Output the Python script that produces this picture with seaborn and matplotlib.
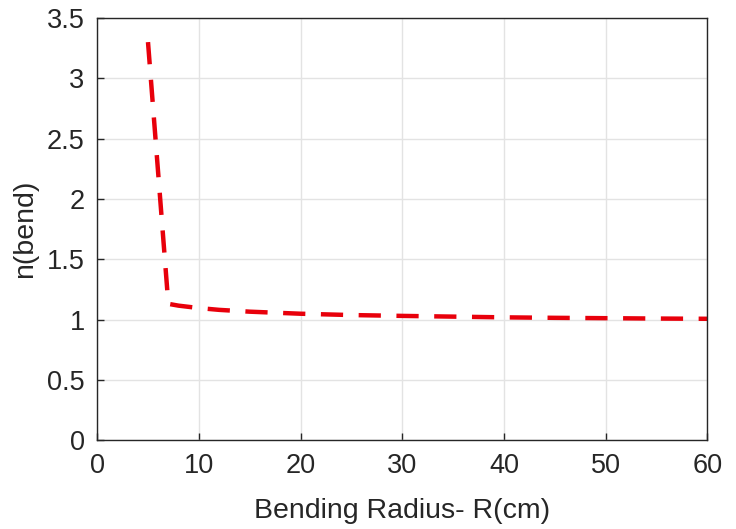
import matplotlib
matplotlib.use('Agg')
import matplotlib.pyplot as plt
import seaborn as sns
import pandas as pd

# bending radius (cm) vs bend factor
radius_cm = [5, 7, 8, 10, 12, 15, 20, 25, 30, 35, 40, 45, 50, 55, 60]
n_bend = [3.3, 1.13, 1.115, 1.095, 1.08, 1.065, 1.048, 1.037, 1.03, 1.024, 1.018, 1.014, 1.011, 1.008, 1.006]

x_ticks = [0, 10, 20, 30, 40, 50, 60]
y_ticks = [0, 0.5, 1, 1.5, 2, 2.5, 3, 3.5]

sns.set_style('ticks')
plt.rcParams['font.family'] = ['Liberation Sans', 'DejaVu Sans']

df = pd.DataFrame({'R': radius_cm, 'n': n_bend})

fig = plt.figure(figsize=(7.36, 5.29), dpi=100)
ax = fig.add_axes([0.132, 0.168, 0.829, 0.798])

sns.lineplot(data=df, x='R', y='n', ax=ax, color='#e8000b', linewidth=3.2,
             linestyle=(0, (5, 3.5)), estimator=None, sort=False)

ax.set_xlim(0, 60)
ax.set_ylim(0, 3.5)
ax.set_xticks(x_ticks)
ax.set_yticks(y_ticks)
ax.set_yticklabels(['0', '0.5', '1', '1.5', '2', '2.5', '3', '3.5'])
ax.grid(True, color='#e3e3e3', linewidth=1)
ax.set_axisbelow(True)
ax.tick_params(direction='in', length=5, width=1, color='#262626',
               labelsize=19.5, labelcolor='#262626', top=False, right=False)
ax.tick_params(axis='x', pad=9)
ax.tick_params(axis='y', pad=9)
for side in ['top', 'right', 'bottom', 'left']:
    ax.spines[side].set_visible(True)
    ax.spines[side].set_color('#262626')
    ax.spines[side].set_linewidth(1)

ax.set_xlabel('Bending Radius- R(cm)', fontsize=20.5, color='#262626', labelpad=14)
ax.set_ylabel('n(bend)', fontsize=20.5, color='#262626', labelpad=6)

fig.savefig('out.png', dpi=100)
